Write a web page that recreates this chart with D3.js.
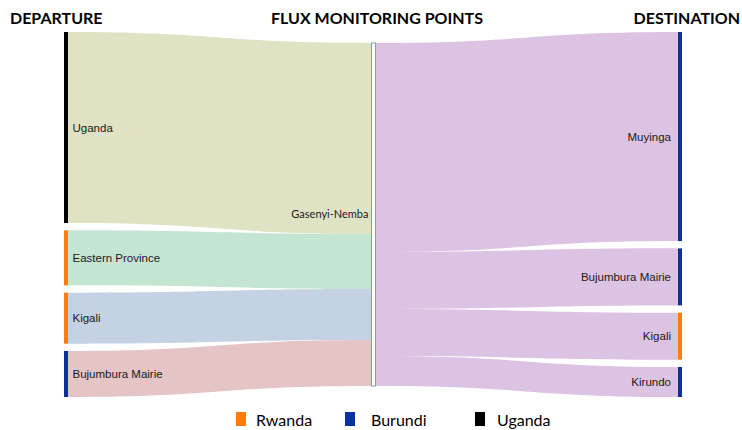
<!DOCTYPE html>
<html>
<head>
<meta charset="utf-8">
<script src="https://cdn.jsdelivr.net/npm/d3@7"></script>
<style>
  body { margin: 0; background: #fff; }
  svg { display: block; }
</style>
</head>
<body>
<div id="chart"></div>
<script>
// Data
const departures = ["Uganda", "Eastern Province", "Kigali", "Bujumbura Mairie"]
const departureValues = [191, 55, 51, 46]
const departureCountry = ["Uganda", "Rwanda", "Rwanda", "Burundi"]
const checkpoint = "Gasenyi-Nemba"
const destinations = ["Muyinga", "Bujumbura Mairie", "Kigali", "Kirundo"]
const destinationValues = [209, 57, 47, 30]
const destinationCountry = ["Burundi", "Burundi", "Rwanda", "Burundi"]
const countries = ["Rwanda", "Burundi", "Uganda"]
const columnTitles = ["DEPARTURE", "FLUX MONITORING POINTS", "DESTINATION"]

// Styles
const countryColors = ["#ff7b0f", "#0a31a0", "#000000"]
const departureLinkColors = ["#dfe3c4", "#c5e5d3", "#c4d2e3", "#e5c4c6"]
const destinationLinkColor = "#ddc3e3"

const width = 742
const height = 430
const yTop = 32, yBottom = 397, nodePadding = 7.3
const legendX = [236, 345, 475]
const legendTextDx = [20, 26, 22]

const svg = d3.select('#chart').append('svg').attr('width', width).attr('height', height)
const linkGroup = svg.append('g').attr('class', 'links')
const nodeGroup = svg.append('g').attr('class', 'nodes')
const labelGroup = svg.append('g').attr('class', 'labels')

const color = d3.scaleOrdinal().domain(countries).range(countryColors)
const colX = d3.scaleLinear().domain([0, 2]).range([64, 678])
const nodeW = [4, 5, 4]

const total = d3.sum(departureValues)
const ky = (yBottom - yTop - (departures.length - 1) * nodePadding) / total
const h = d3.scaleLinear().domain([0, total]).range([0, ky * total])

// stack nodes in a column
function stack(values) {
    let y = yTop
    return values.map(v => {
        const n = {y0: y, y1: y + h(v)}
        y = n.y1 + nodePadding
        return n
    })
}
const left = stack(departureValues)
const right = stack(destinationValues)
const midH = h(total)
const mid = {y0: (yTop + yBottom) / 2 - midH / 2, y1: (yTop + yBottom) / 2 + midH / 2}

function band(x0, a0, b0, x1, a1, b1) {
    const xm = (x0 + x1) / 2
    const p = d3.path()
    p.moveTo(x0, a0)
    p.bezierCurveTo(xm, a0, xm, a1, x1, a1)
    p.lineTo(x1, b1)
    p.bezierCurveTo(xm, b1, xm, b0, x0, b0)
    p.closePath()
    return p.toString()
}

// links departure -> checkpoint
let my = mid.y0
departureValues.forEach((v, i) => {
    linkGroup.append('path')
        .attr('d', band(colX(0) + nodeW[0], left[i].y0, left[i].y1, colX(1), my, my + h(v)))
        .attr('fill', departureLinkColors[i])
    my += h(v)
})
// links checkpoint -> destination
my = mid.y0
destinationValues.forEach((v, i) => {
    linkGroup.append('path')
        .attr('d', band(colX(1) + nodeW[1], my, my + h(v), colX(2), right[i].y0, right[i].y1))
        .attr('fill', destinationLinkColor)
    my += h(v)
})

// nodes
nodeGroup.selectAll('rect.dep').data(departures).enter().append('rect')
    .attr('class', 'dep')
    .attr('x', colX(0)).attr('width', nodeW[0])
    .attr('y', (d, i) => left[i].y0).attr('height', (d, i) => left[i].y1 - left[i].y0)
    .attr('fill', (d, i) => color(departureCountry[i]))
nodeGroup.selectAll('rect.dest').data(destinations).enter().append('rect')
    .attr('class', 'dest')
    .attr('x', colX(2)).attr('width', nodeW[2])
    .attr('y', (d, i) => right[i].y0).attr('height', (d, i) => right[i].y1 - right[i].y0)
    .attr('fill', (d, i) => color(destinationCountry[i]))
nodeGroup.append('rect')
    .attr('x', colX(1) + 0.5).attr('width', nodeW[1] - 1)
    .attr('y', mid.y0).attr('height', midH)
    .attr('fill', '#fff').attr('stroke', '#7f98cf').attr('stroke-width', 1)

// labels
const arial = '"Liberation Sans", Arial, sans-serif'
labelGroup.selectAll('text.dep').data(departures).enter().append('text')
    .attr('x', colX(0) + nodeW[0] + 4.5)
    .attr('y', (d, i) => (left[i].y0 + left[i].y1) / 2)
    .attr('dy', '0.35em')
    .style('font-family', arial).style('font-size', '11.5px').attr('fill', '#1a1a1a')
    .text(d => d)
labelGroup.selectAll('text.dest').data(destinations).enter().append('text')
    .attr('x', colX(2) - 7)
    .attr('y', (d, i) => (right[i].y0 + right[i].y1) / 2)
    .attr('dy', '0.35em')
    .attr('text-anchor', 'end')
    .style('font-family', arial).style('font-size', '11.5px').attr('fill', '#1a1a1a')
    .text(d => d)
labelGroup.append('text')
    .attr('x', colX(1) - 2.5)
    .attr('y', (mid.y0 + mid.y1) / 2)
    .attr('dy', '0.35em')
    .attr('text-anchor', 'end')
    .style('font-family', 'Lato, sans-serif').style('font-size', '11px').attr('fill', '#1a1a1a')
    .text(checkpoint)

// column titles
const titleX = [10, 377, 740]
const titleAnchor = ['start', 'middle', 'end']
svg.selectAll('text.title').data(columnTitles).enter().append('text')
    .attr('class', 'title')
    .attr('x', (d, i) => titleX[i]).attr('y', 23.5)
    .attr('text-anchor', (d, i) => titleAnchor[i])
    .style('font-family', 'Lato, sans-serif').style('font-weight', 'bold').style('font-size', '16px')
    .attr('fill', '#000')
    .text(d => d)

// legend (nudged up a little so the text is not clipped at the bottom edge)
const legend = svg.selectAll('g.legend').data(countries).enter().append('g')
    .attr('class', 'legend')
    .attr('transform', (d, i) => `translate(${legendX[i]}, 0)`)
legend.append('rect').attr('x', 0).attr('y', 412).attr('width', 10).attr('height', 14)
    .attr('fill', d => color(d))
legend.append('text').attr('x', (d, i) => legendTextDx[i]).attr('y', 425.5)
    .style('font-family', 'Lato, sans-serif').style('font-size', '16px').attr('fill', '#000')
    .text(d => d)
</script>
</body>
</html>
